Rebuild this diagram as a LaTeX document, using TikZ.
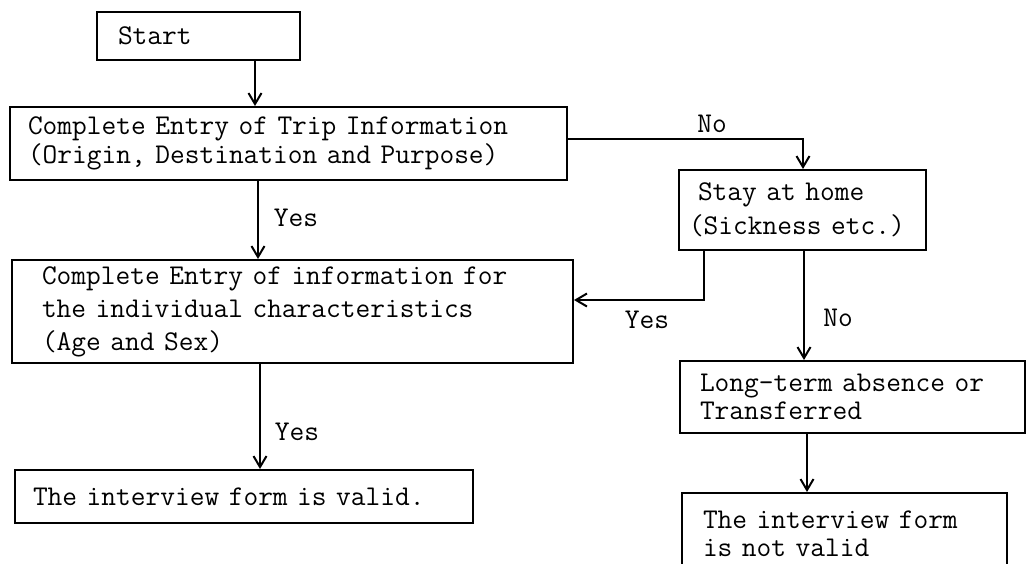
\documentclass[tikz,border=0pt]{standalone}
\usepackage{fontspec}
\usetikzlibrary{arrows.meta,calc}
\begin{document}
\begin{tikzpicture}[x=1pt,y=-1pt,
  box/.style={draw, line width=2pt, rectangle, align=left, inner ysep=0pt, anchor=center},
  txt/.style={font=\ttfamily\fontsize{28.6}{#1}\selectfont},
  arr/.style={line width=2pt, -{Straight Barb[length=11pt,width=13pt,line width=2pt]}},
  lab/.style={font=\ttfamily\fontsize{28.6}{30}\selectfont, inner sep=0pt}]
\useasboundingbox (0,0) rectangle (1030,563);
\clip (0,0) rectangle (1030,563);
\node[box, txt=30, minimum width=203pt, minimum height=48pt, text width=161pt, inner xsep=21pt] (start) at (198.5,36) {Start};
\node[box, txt=29, minimum width=557pt, minimum height=73pt, text width=521pt, inner xsep=18pt] (trip) at (288.5,143.5) {Complete Entry of Trip Information\\(Origin, Destination and Purpose)};
\node[box, txt=34, minimum width=247pt, minimum height=80pt, text width=227pt, inner xsep=10pt] (stay) at (802.5,210) {\hspace*{9pt}Stay at home\\(Sickness etc.)};
\node[box, txt=33, minimum width=561pt, minimum height=103pt, text width=501pt, inner xsep=30pt] (chars) at (292.5,311.5) {Complete Entry of information for\\the individual characteristics\\(Age and Sex)};
\node[box, txt=30, minimum width=458pt, minimum height=53pt, text width=422pt, inner xsep=18pt] (valid) at (244,496.5) {The interview form is valid.};
\node[box, txt=28, minimum width=345pt, minimum height=72pt, text width=305pt, inner xsep=20pt] (longterm) at (852.5,397) {Long-term absence or\\Transferred};
\node[box, txt=28, minimum width=325pt, minimum height=82pt, text width=283pt, inner xsep=21pt] (notvalid) at (844.5,534) {The interview form\\is not valid};
% connectors
\coordinate (c1) at (255,0);
\draw[arr] (start.south -| c1) -- (trip.north -| c1);
\coordinate (c2) at (258,0);
\draw[arr] (trip.south -| c2) -- (chars.north -| c2);
\node[lab] (yes1) at (296,218) {Yes};
\coordinate (c3) at (803,139);
\draw[arr] (trip.east |- c3) -- (c3) -- (stay.north -| c3);
\node[lab] (no1) at (712,124) {No};
\coordinate (c4) at (704,300);
\draw[arr] (stay.south -| c4) -- (c4) -- (chars.east |- c4);
\node[lab] (yes2) at (647,320) {Yes};
\coordinate (c5) at (804,0);
\draw[arr] (stay.south -| c5) -- (longterm.north -| c5);
\node[lab] (no2) at (838,318) {No};
\coordinate (c6) at (260,0);
\draw[arr] (chars.south -| c6) -- (valid.north -| c6);
\node[lab] (yes3) at (297,432) {Yes};
\coordinate (c7) at (807,0);
\draw[arr] (longterm.south -| c7) -- (notvalid.north -| c7);
\end{tikzpicture}
\end{document}
